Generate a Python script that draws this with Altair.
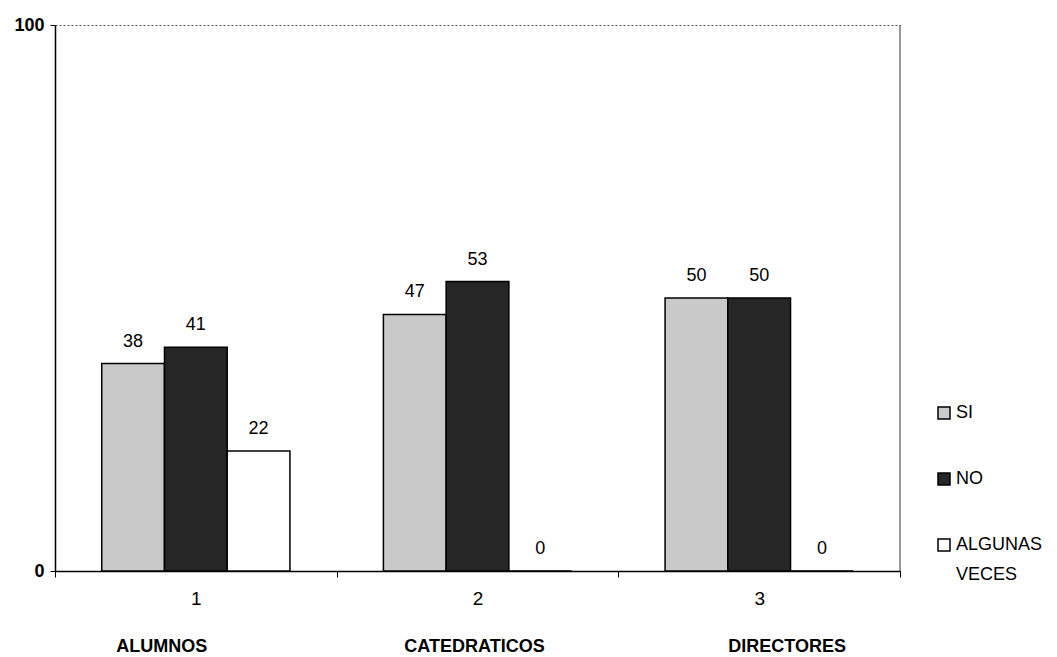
import altair as alt
import pandas as pd

# Categories and series
grupos = ["1", "2", "3"]
nombres = ["ALUMNOS", "CATEDRATICOS", "DIRECTORES"]
series = ["SI", "NO", "ALGUNAS VECES"]

# Percentages per group
si = [38, 47, 50]
no = [41, 53, 50]
algunas = [22, 0, 0]

colores = ["#c9c9c9", "#262626", "#ffffff"]

rows = []
for i, g in enumerate(grupos):
    for s, vals in zip(series, [si, no, algunas]):
        rows.append({"grupo": g, "serie": s, "valor": vals[i]})
df = pd.DataFrame(rows)
df_nombres = pd.DataFrame({"grupo": grupos, "nombre": nombres})

FONT = "Liberation Sans"
W, H = 845, 546
# horizontal nudge of each group caption under its axis label
name_dx = [-34, -3, 28]

x_enc = alt.X(
    "grupo:N",
    sort=grupos,
    scale=alt.Scale(paddingInner=0, paddingOuter=0),
    axis=alt.Axis(
        title=None, labelAngle=0, tickBand="extent", tickSize=6,
        tickColor="black", domainColor="black", domainWidth=1.5,
        labelFontSize=19, labelColor="black", labelPadding=12,
        labelFont=FONT, grid=False,
    ),
)
xoff_enc = alt.XOffset(
    "serie:N", sort=series,
    scale=alt.Scale(paddingInner=0, paddingOuter=0.745),
)
y_enc = alt.Y(
    "valor:Q",
    scale=alt.Scale(domain=[0, 100], nice=False),
    axis=alt.Axis(
        title=None, values=[0, 100], tickSize=5, tickColor="black",
        domainColor="black", domainWidth=1.5, labelFontSize=18,
        labelColor="black", labelPadding=6, labelFont=FONT,
        labelFontWeight="bold",
        grid=True, gridColor="#555555", gridDash=[2, 2], gridWidth=1,
    ),
)

base = alt.Chart(df).encode(x=x_enc, xOffset=xoff_enc)

bars = base.mark_bar(stroke="black", strokeWidth=1.5).encode(
    y=y_enc,
    color=alt.Color(
        "serie:N",
        sort=series,
        scale=alt.Scale(domain=series, range=colores),
        legend=alt.Legend(
            title=None, orient="none", legendX=880, legendY=379,
            symbolType="square", symbolSize=144, symbolStrokeColor="black",
            symbolStrokeWidth=1.5, labelFontSize=18, labelFont=FONT,
            labelColor="black", labelOffset=3, rowPadding=48, padding=0,
            labelExpr="split(datum.label, ' ')",
        ),
    ),
)

labels = base.mark_text(dy=-22, fontSize=18, font=FONT, color="black").encode(
    y="valor:Q", text="valor:Q"
)

name_layers = []
for g, dx in zip(grupos, name_dx):
    name_layers.append(
        alt.Chart(df_nombres)
        .transform_filter(alt.datum.grupo == g)
        .mark_text(
            fontSize=18, font=FONT, fontWeight="bold", color="black",
            baseline="middle", dx=dx,
        )
        .encode(x=alt.X("grupo:N", sort=grupos), y=alt.value(622), text="nombre:N")
    )

right_edge = alt.Chart(pd.DataFrame({"k": [0]})).mark_rule(
    color="#333333", strokeWidth=1
).encode(x=alt.value(W), y=alt.value(0), y2=alt.value(H))

chart = (
    alt.layer(bars, labels, *name_layers, right_edge)
    .properties(
        width=W, height=H,
        autosize=alt.AutoSizeParams(type="none"),
        padding={"left": 55, "top": 25, "right": 157, "bottom": 86},
    )
    .configure(
        font=FONT,
        background="white",
        style={"guide-label": {"lineHeight": 30}},
    )
    .configure_view(stroke="transparent")
)

chart.save("out.html", embed_options={"renderer": "svg", "actions": False})
